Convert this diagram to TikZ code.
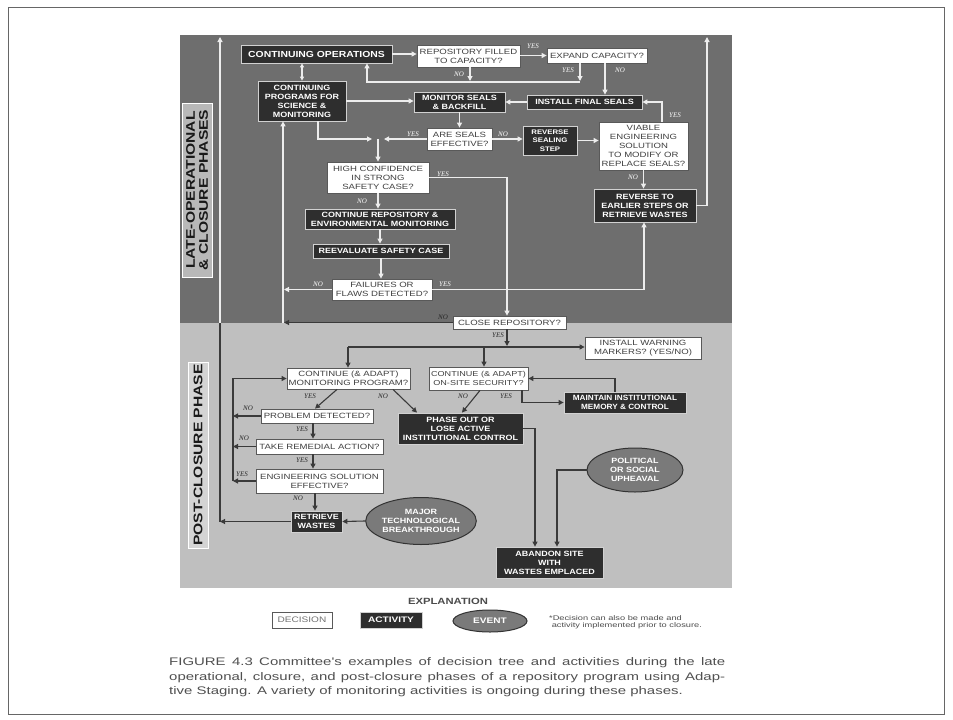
\documentclass[tikz,border=0pt]{standalone}
\usepackage{fontspec}
\setmainfont{Liberation Sans}
\newfontfamily\dfont[FakeStretch=1.26]{Liberation Sans}
\newfontfamily\afont[FakeStretch=1.18]{Liberation Sans}
\newfontfamily\mfont[FakeStretch=1.08]{Liberation Sans}
\newfontfamily\labfont[FakeStretch=1.25]{Liberation Sans}
\newfontfamily\yfont{Liberation Serif}
\newfontfamily\capfont[FakeStretch=1.36]{Liberation Sans}
\usetikzlibrary{arrows.meta,shapes.geometric}
\definecolor{darkreg}{HTML}{6E6E6E}
\definecolor{lightreg}{HTML}{BFBFBF}
\definecolor{actfill}{HTML}{2E2E2E}
\definecolor{wline}{HTML}{EDEDED}
\definecolor{dline}{HTML}{3A3A3A}
\definecolor{evfill}{HTML}{7A7A7A}
\definecolor{captxt}{HTML}{505050}
\begin{document}
\begin{tikzpicture}[x=1pt,y=-1pt,
  decision/.style={draw=black!65, line width=0.8pt, fill=white, text=black!75, font=\dfont\fontsize{7.6}{9}\selectfont, align=center, inner sep=0pt},
  activity/.style={draw=white!82!black, line width=0.8pt, fill=actfill, text=white, font=\afont\bfseries\fontsize{7.6}{9}\selectfont, align=center, inner sep=0pt},
  event/.style={ellipse, draw=black!80, line width=1pt, fill=evfill, text=white, font=\afont\bfseries\fontsize{7.6}{9}\selectfont, align=center, inner sep=0pt},
  wl/.style={draw=wline, line width=1.1pt},
  dl/.style={draw=dline, line width=1.1pt},
  arr/.style={-{Triangle[length=5pt,width=5pt]}},
  darr/.style={{Triangle[length=4pt,width=4pt]}-{Triangle[length=4pt,width=4pt]}},
  ywl/.style={font=\yfont\itshape\fontsize{7}{7}\selectfont, text=white, inner sep=0pt},
  ydl/.style={font=\yfont\itshape\fontsize{7}{7}\selectfont, text=black!85, inner sep=0pt},
  phaselab/.style={rotate=90, draw=white, line width=0.8pt, text=black!90, font=\labfont\bfseries\fontsize{12.5}{13}\selectfont, align=center, inner sep=0pt},
  captext/.style={anchor=west, inner sep=0pt, font=\capfont\fontsize{11}{12}\selectfont, text=captxt}
]
\useasboundingbox (0,0) rectangle (953,720);
\fill[white] (0,0) rectangle (953,720);
\draw[black!60, line width=1pt] (8,7) rectangle (944,714);
% regions
\fill[darkreg] (180,35) rectangle (732,323);
\fill[lightreg] (180,323) rectangle (732,588);
% phase labels
\node[phaselab, fill=black!28, minimum width=174pt, minimum height=30pt] (lab1) at (197,190) {LATE-OPERATIONAL\\\& CLOSURE PHASES};
\node[phaselab, fill=black!17, minimum width=186pt, minimum height=20pt] (lab2) at (198,455) {POST-CLOSURE PHASE};

% ---------- nodes: late operational ----------
\node[activity, minimum width=151pt, minimum height=18pt, font=\afont\bfseries\fontsize{8.8}{9}\selectfont] (contops) at (316.5,54) {CONTINUING OPERATIONS};
\node[decision, minimum width=103pt, minimum height=22pt] (repo) at (468.5,56) {REPOSITORY FILLED\\TO CAPACITY?};
\node[decision, minimum width=100pt, minimum height=15pt] (expand) at (597,55.5) {EXPAND CAPACITY?};
\node[activity, minimum width=88pt, minimum height=40pt] (contprog) at (302,101) {CONTINUING\\PROGRAMS FOR\\SCIENCE \&\\MONITORING};
\node[activity, minimum width=91pt, minimum height=20pt] (monitor) at (459.5,102) {MONITOR SEALS\\\& BACKFILL};
\node[activity, minimum width=115pt, minimum height=14pt] (install) at (584.5,102) {INSTALL FINAL SEALS};
\node[decision, minimum width=65pt, minimum height=22pt] (areseals) at (459.5,139) {ARE SEALS\\EFFECTIVE?};
\node[activity, minimum width=54pt, minimum height=29pt, font=\afont\bfseries\fontsize{6.6}{8.5}\selectfont] (revseal) at (550,140.5) {REVERSE\\SEALING\\STEP};
\node[decision, minimum width=89pt, minimum height=48pt] (viable) at (643.5,146) {VIABLE\\ENGINEERING\\SOLUTION\\TO MODIFY OR\\REPLACE SEALS?};
\node[activity, minimum width=102pt, minimum height=33pt] (revearl) at (645,205.5) {REVERSE TO\\EARLIER STEPS OR\\RETRIEVE WASTES};
\node[decision, minimum width=102pt, minimum height=31pt] (hc) at (378,177.5) {HIGH CONFIDENCE\\IN STRONG\\SAFETY CASE?};
\node[activity, minimum width=150pt, minimum height=20pt] (contrepo) at (380,219) {CONTINUE REPOSITORY \&\\ENVIRONMENTAL MONITORING};
\node[activity, minimum width=136pt, minimum height=14pt] (reeval) at (381,251) {REEVALUATE SAFETY CASE};
\node[decision, minimum width=100pt, minimum height=21pt] (failures) at (382,289.5) {FAILURES OR\\FLAWS DETECTED?};
\node[decision, minimum width=113pt, minimum height=13pt] (close) at (509.5,322.5) {CLOSE REPOSITORY?};

% ---------- nodes: post-closure ----------
\node[decision, minimum width=116pt, minimum height=22pt] (warning) at (643,348) {INSTALL WARNING\\MARKERS? (YES/NO)};
\node[decision, minimum width=123pt, minimum height=21pt] (contmon) at (348.5,378.5) {CONTINUE (\& ADAPT)\\MONITORING PROGRAM?};
\node[decision, minimum width=99pt, minimum height=23pt, font=\dfont\fontsize{7.2}{9}\selectfont] (onsite) at (478.5,378.5) {CONTINUE (\& ADAPT)\\ON-SITE SECURITY?};
\node[activity, minimum width=122pt, minimum height=21pt, font=\mfont\bfseries\fontsize{7.6}{9}\selectfont] (maintain) at (625,402.5) {MAINTAIN INSTITUTIONAL\\MEMORY \& CONTROL};
\node[activity, minimum width=125pt, minimum height=31pt] (phaseout) at (460.5,428.5) {PHASE OUT OR\\LOSE ACTIVE\\INSTITUTIONAL CONTROL};
\node[activity, minimum width=107pt, minimum height=31pt] (abandon) at (549.5,562.5) {ABANDON SITE\\WITH\\WASTES EMPLACED};
\node[event, minimum width=96pt, minimum height=44pt] (upheaval) at (635,470) {POLITICAL\\OR SOCIAL\\UPHEAVAL};
\node[decision, minimum width=112pt, minimum height=14pt] (problem) at (317,416) {PROBLEM DETECTED?};
\node[decision, minimum width=127pt, minimum height=15pt] (remedial) at (319.5,446.5) {TAKE REMEDIAL ACTION?};
\node[decision, minimum width=127pt, minimum height=24pt] (engsol) at (319.5,481) {ENGINEERING SOLUTION\\EFFECTIVE?};
\node[activity, minimum width=51pt, minimum height=21pt] (retrieve) at (316.5,521.5) {RETRIEVE\\WASTES};
\node[event, minimum width=109pt, minimum height=47pt] (breakthru) at (421,521) {MAJOR\\TECHNOLOGICAL\\BREAKTHROUGH};

% ---------- connectors: late operational (white) ----------
\draw[wl,arr] (contops.east) -- (contops.east -| repo.west);
\draw[wl,arr] (repo.east |- expand.west) -- (expand.west);
\draw[wl,arr] (470,0 |- repo.south) -- (470,81);
\draw[wl,arr] (580,0 |- expand.south) -- (580,81);
\coordinate (jr) at (580,82);
\coordinate (jl) at (367,82);
\draw[wl,arr] (jr) -- (jl) -- (jl |- contops.south);
\draw[wl,arr] (605,0 |- expand.south) -- (605,0 |- install.north);
\draw[wl,darr] (302,0 |- contops.south) -- (302,0 |- contprog.north);
\draw[wl,arr] (contprog.east) -- (contprog.east -| monitor.west);
\draw[wl,arr] (install.west) -- (install.west -| monitor.east);
\draw[wl,arr] (662,0 |- viable.north) -- (662,102) -- (install.east);
\draw[wl,arr] (monitor.south) -- (areseals.north);
\coordinate (jm) at (378,139);
\draw[wl,arr] (areseals.west) -- (384,139);
\draw[wl,arr] (318,0 |- contprog.south) -- (318,139) -- (372,139);
\draw[wl,arr] (jm) -- (jm |- hc.north);
\draw[wl,arr] (areseals.east) -- (areseals.east -| revseal.west);
\draw[wl,arr] (revseal.east) -- (revseal.east -| viable.west);
\draw[wl,arr] (viable.south) -- (viable.south |- revearl.north);
\coordinate (rtop) at (707,37);
\draw[wl,arr] (revearl.east) -- (rtop |- revearl.east) -- (rtop);
\draw[wl,arr] (hc.east) -- (507,0 |- hc.east) -- (507,0 |- close.north);
\draw[wl,arr] (hc.south) -- (hc.south |- contrepo.north);
\draw[wl,arr] (contrepo.south) -- (contrepo.south |- reeval.north);
\draw[wl,arr] (reeval.south) -- (reeval.south |- failures.north);
\draw[wl,arr] (failures.west) -- (284,0 |- failures.west);
\draw[wl,arr] (failures.east) -- (644,0 |- failures.east) -- (644,0 |- revearl.south);
\coordinate (v2) at (283,322.5);
\draw[wl,arr] (v2) -- (v2 |- contprog.south);
\draw[dl,arr] (close.west) -- (284,0 |- close.west);
\coordinate (v1b) at (220,521.5);
\coordinate (v1m) at (220,323);
\coordinate (v1t) at (220,37);
\draw[dl,arr] (retrieve.west) -- (v1b);
\draw[dl] (v1b) -- (v1m);
\draw[wl,arr] (v1m) -- (v1t);

% labels late operational
\node[ywl] at (533,46) {YES};
\node[ywl] at (459,74) {NO};
\node[ywl] at (568,70) {YES};
\node[ywl] at (620,70) {NO};
\node[ywl] at (675,115) {YES};
\node[ywl] at (413,134) {YES};
\node[ywl] at (503,134) {NO};
\node[ywl] at (633,177) {NO};
\node[ywl] at (443,174) {YES};
\node[ywl] at (362,201) {NO};
\node[ywl] at (318,284) {NO};
\node[ywl] at (445,284) {YES};
\node[ydl] at (443,317) {NO};

% ---------- connectors: post-closure (dark) ----------
\coordinate (h1) at (348,347);
\coordinate (h2) at (484,347);
\draw[dl,arr] (507,0 |- close.south) -- (507,346);
\draw[dl,arr] (h1) -- (h1 -| warning.west);
\draw[dl,arr] (h1) -- (h1 |- contmon.north);
\draw[dl,arr] (h2) -- (h2 |- onsite.north);
\draw[dl,arr] (337,0 |- contmon.south) -- (315,0 |- problem.north);
\draw[dl,arr] (393,0 |- contmon.south) -- (417,0 |- phaseout.north);
\draw[dl,arr] (480,0 |- onsite.south) -- (462,0 |- phaseout.north);
\draw[dl,arr] (522,0 |- onsite.south) -- (522,0 |- maintain.west) -- (maintain.west);
\draw[dl,arr] (615,0 |- maintain.north) -- (615,0 |- onsite.east) -- (onsite.east);
\draw[dl,arr] (phaseout.east) -- (535,0 |- phaseout.east) -- (535,0 |- abandon.north);
\draw[dl,arr] (upheaval.west) -- (557,0 |- upheaval.west) -- (557,0 |- abandon.north);
\coordinate (v3) at (233,481);
\draw[dl,arr] (problem.west) -- (v3 |- problem.west);
\draw[dl,arr] (313,0 |- problem.south) -- (313,0 |- remedial.north);
\draw[dl,arr] (remedial.west) -- (v3 |- remedial.west);
\draw[dl,arr] (313,0 |- remedial.south) -- (313,0 |- engsol.north);
\draw[dl,arr] (engsol.west) -- (v3);
\draw[dl,arr] (v3) -- (v3 |- contmon.west) -- (contmon.west);
\draw[dl,arr] (315,0 |- engsol.south) -- (315,0 |- retrieve.north);
\draw[dl,arr] (breakthru.west) -- (retrieve.east);

% labels post-closure
\node[ydl] at (498,335) {YES};
\node[ydl] at (310,396) {YES};
\node[ydl] at (383,396) {NO};
\node[ydl] at (463,396) {NO};
\node[ydl] at (506,396) {YES};
\node[ydl] at (248,408) {NO};
\node[ydl] at (302,429) {YES};
\node[ydl] at (244,438) {NO};
\node[ydl] at (302,460) {YES};
\node[ydl] at (242,474) {YES};
\node[ydl] at (298,498) {NO};

% ---------- legend ----------
\node[font=\labfont\bfseries\fontsize{9}{10}\selectfont, text=black!70] (expl) at (448,601) {EXPLANATION};
\node[decision, minimum width=60pt, minimum height=16pt, text=black!55, font=\dfont\fontsize{8}{9}\selectfont] (legdec) at (302,620) {DECISION};
\node[activity, minimum width=62pt, minimum height=16pt, font=\dfont\bfseries\fontsize{8}{9}\selectfont] (legact) at (391,620) {ACTIVITY};
\node[event, minimum width=74pt, minimum height=22pt, font=\dfont\bfseries\fontsize{8}{9}\selectfont] (legev) at (490,621) {EVENT};
\node[anchor=west, align=left, font=\capfont\fontsize{6.8}{7.5}\selectfont, text=black!70, inner sep=0pt] (foot) at (549,622) {*Decision can also be made and\\\ activity implemented prior to closure.};

% ---------- caption ----------
\node[captext] (cap1) at (169,663) {\makebox[556pt][s]{FIGURE 4.3 Committee's examples of decision tree and activities during the late}};
\node[captext] (cap2) at (169,677.5) {\makebox[556pt][s]{operational, closure, and post-closure phases of a repository program using Adap-}};
\node[captext] (cap3) at (169,692) {tive Staging. A variety of monitoring activities is ongoing during these phases.};
\end{tikzpicture}
\end{document}
